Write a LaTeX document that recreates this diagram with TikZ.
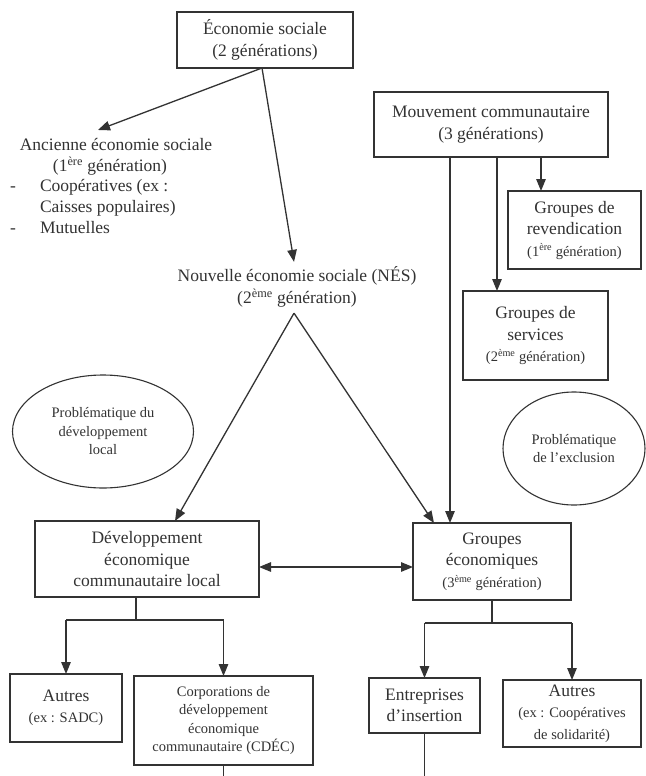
\documentclass[tikz,border=0pt]{standalone}
\usepackage{fontspec}
\setmainfont{Liberation Serif}
\usetikzlibrary{arrows.meta,shapes.geometric}
\newcommand{\fmain}{\fontsize{17.5}{21.5}\selectfont}
\newcommand{\fsmall}{\fontsize{14.5}{18.5}\selectfont}
\definecolor{ink}{gray}{0.2}
\begin{document}
\begin{tikzpicture}[x=1pt,y=-1pt,
  every node/.style={inner sep=0pt,outer sep=0pt,text=ink},
  bx/.style={draw=ink,line width=1.3pt,align=center,font=\fmain},
  sbx/.style={bx,font=\fsmall},
  ell/.style={draw=ink,line width=1.1pt,ellipse,align=center,font=\fsmall},
  lbl/.style={font=\fmain,align=center,text height=12.5pt,text depth=3.5pt},
  mlbl/.style={font=\fmain,align=center},
  ln/.style={draw=ink,line width=1.3pt},
  arr/.style={ln,-{Triangle[length=12pt,width=9.5pt]}},
  arrr/.style={ln,{Triangle[length=12pt,width=9.5pt]}-{Triangle[length=12pt,width=9.5pt]}},
]
\useasboundingbox (0,0) rectangle (645,776);
\fill[white] (0,0) rectangle (645,776);

% top
\node[bx,minimum width=176pt,minimum height=56pt] (eco) at (265,40) {Économie sociale\\(2 générations)};

\node[lbl] (anc) at (116,146) {Ancienne économie sociale};
\node[lbl] (ancg) at (110,167) {(1\textsuperscript{ère} génération)};
\node[lbl] (d1) at (13,187) {-};
\node[lbl,anchor=west] (coop) at (40,187) {Coopératives (ex :};
\node[lbl,anchor=west] (cais) at (40,208) {Caisses populaires)};
\node[lbl] (d2) at (13,229) {-};
\node[lbl,anchor=west] (mut) at (40,229) {Mutuelles};

\node[mlbl] (nes) at (297,287) {Nouvelle économie sociale (NÉS)\\(2\textsuperscript{ème} génération)};
\coordinate (apex) at ([xshift=-3pt,yshift=-6pt]nes.south);

\draw[arr] ([xshift=-3pt]eco.south) -- ([xshift=-18pt,yshift=8pt]anc.north);
\draw[arr] ([xshift=-3pt]eco.south) -- ([xshift=-3pt,yshift=5pt]nes.north);

% mouvement communautaire
\node[bx,minimum width=234pt,minimum height=65pt] (mouv) at (491,124.5) {Mouvement communautaire\\(3 générations)};
\node[bx,minimum width=133pt,minimum height=78pt] (rev) at (574.5,230) {Groupes de\\revendication\\{\fsmall (1\textsuperscript{ère} génération)}};
\node[bx,minimum width=145pt,minimum height=89pt] (serv) at (535.5,335.5) {Groupes de\\services\\{\fsmall (2\textsuperscript{ème} génération)}};

% ellipses
\node[ell,minimum width=181pt,minimum height=113pt] (pdl) at (103,431.5) {Problématique du\\développement\\local};
\node[ell,minimum width=142pt,minimum height=113pt] (pex) at (574,448.5) {Problématique\\de l’exclusion};

% middle boxes
\node[bx,minimum width=224pt,minimum height=76pt] (dev) at (147,559) {Développement\\économique\\communautaire local};
\node[bx,minimum width=158pt,minimum height=77pt] (geco) at (492,561.5) {Groupes\\économiques\\{\fsmall (3\textsuperscript{ème} génération)}};

\draw[arr] ([xshift=50pt]mouv.south) -- ([xshift=50pt]mouv.south |- rev.north);
\draw[arr] ([xshift=6pt]mouv.south) -- ([xshift=6pt]mouv.south |- serv.north);
\draw[arr] ([xshift=-41pt]mouv.south) -- ([xshift=-41pt]mouv.south |- geco.north);

\draw[arr] (apex) -- ([xshift=28pt]dev.north);
\draw[arr] (apex) -- ([xshift=-58pt]geco.north);

\draw[arrr] ([yshift=-8pt]dev.east) -- ([yshift=-8pt]dev.east -| geco.west);

% bottom boxes
\node[bx,minimum width=112pt,minimum height=68pt] (aut1) at (66,708) {Autres\\{\fsmall (ex : SADC)}};
\node[sbx,minimum width=179pt,minimum height=89pt] (cdec) at (223.5,720.5) {Corporations de\\développement\\économique\\communautaire (CDÉC)};
\node[bx,minimum width=111pt,minimum height=55pt] (ent) at (424.5,705.5) {Entreprises\\d’insertion};
\node[bx,minimum width=138pt,minimum height=67pt] (aut2) at (572,713.5) {Autres\\{\fsmall (ex : Coopératives}\\{\fsmall de solidarité)}};

% left tree
\draw[ln] ([xshift=-11pt]dev.south) -- ++(0,23) coordinate (dj);
\draw[ln] (dj -| aut1.north) -- (dj -| cdec.north);
\draw[arr] (dj -| aut1.north) -- (aut1.north);
\draw[arr] (dj -| cdec.north) -- (cdec.north);

% right tree
\draw[ln] (geco.south) -- ++(0,23) coordinate (gj);
\draw[ln] (gj -| ent.north) -- (gj -| aut2.north);
\draw[arr] (gj -| ent.north) -- (ent.north);
\draw[arr] (gj -| aut2.north) -- (aut2.north);

% lines leaving the bottom
\coordinate (bot) at (0,776);
\draw[ln] (cdec.south) -- (cdec.south |- bot);
\draw[ln] (ent.south) -- (ent.south |- bot);
\end{tikzpicture}
\end{document}
